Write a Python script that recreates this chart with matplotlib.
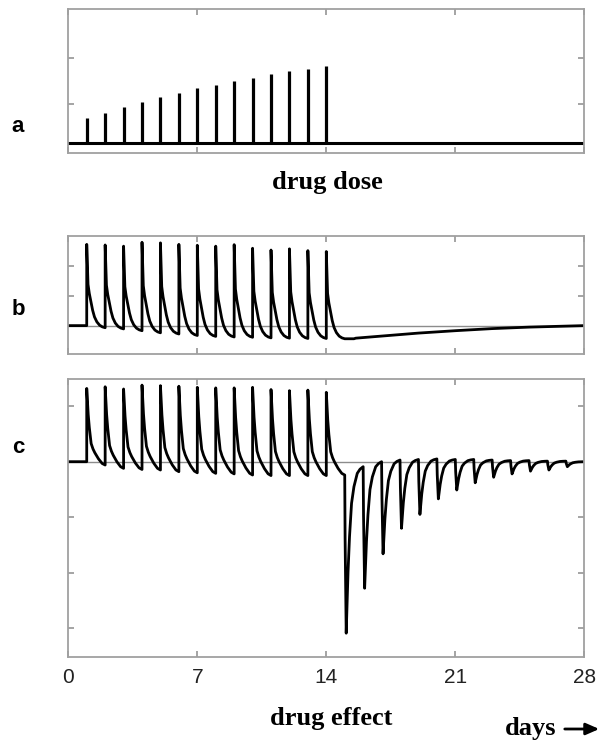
import matplotlib
matplotlib.use("Agg")
import matplotlib.pyplot as plt

W, H = 609, 740

# Daily doses (days 1-14), height of each dose stroke
DOSE_DAYS = list(range(1, 15))
DOSE_SIZE = [0.54, 0.66, 0.79, 0.89, 0.99, 1.08, 1.19, 1.26, 1.35, 1.41, 1.49, 1.56, 1.61, 1.67]

# Effect without withdrawal rebound (panel b)
B_PEAKS = [2.72, 2.70, 2.66, 2.79, 2.77, 2.72, 2.69, 2.66, 2.71, 2.59, 2.53, 2.57, 2.51, 2.48]
B_ENDS = [-0.07, -0.11, -0.17, -0.24, -0.28, -0.33, -0.36, -0.38, -0.39, -0.41, -0.42, -0.43, -0.43, -0.44]
B_TAIL_DAYS = [15.5, 15.6, 16, 17, 19, 21, 23, 25, 28]
B_TAIL = [-0.44, -0.42, -0.40, -0.35, -0.25, -0.17, -0.10, -0.05, 0.0]
# shape of one dosing interval: days after dose, fraction between trough and peak
B_SHAPE_T = [0, 0.07, 0.14, 0.22, 0.32, 0.42, 0.55, 0.70, 0.85, 1.0]
B_SHAPE = [1.0, 0.52, 0.41, 0.32, 0.21, 0.13, 0.07, 0.03, 0.01, 0.0]

# Effect with withdrawal rebound (panel c)
C_PEAKS = [1.32, 1.35, 1.31, 1.38, 1.37, 1.36, 1.34, 1.33, 1.33, 1.34, 1.30, 1.28, 1.29, 1.25]
C_ENDS = [-0.06, -0.12, -0.14, -0.15, -0.18, -0.20, -0.21, -0.22, -0.24, -0.25, -0.25, -0.25, -0.25, -0.24]
C_SHAPE_T = [0, 0.08, 0.14, 0.24, 0.34, 0.44, 0.54, 0.64, 0.74, 0.84, 1.0]
C_SHAPE = [1.0, 0.66, 0.49, 0.28, 0.21, 0.16, 0.12, 0.08, 0.05, 0.02, 0.0]

WD_DAYS = list(range(15, 28))
WD_MIN = [-3.09, -2.28, -1.66, -1.20, -0.95, -0.67, -0.51, -0.38, -0.28, -0.22, -0.17, -0.15, -0.09]
WD_ENDS = [-0.09, 0.0, 0.03, 0.04, 0.05, 0.04, 0.04, 0.03, 0.02, 0.02, 0.01, 0.01, 0.0]
WD_DROP_T = [0, 0.02, 0.08]
WD_DROP = [0.0, 0.4, 1.0]
WD_SHAPE_T = [0.18, 0.26, 0.37, 0.50, 0.68, 0.83, 1.0]
WD_SHAPE = [0.63, 0.42, 0.22, 0.12, 0.04, 0.015, 0.0]

TICK_DAYS = [0, 7, 14, 21, 28]


def dose_curve(days, peaks, ends, shape_t, shape):
    x, y = [0, days[0]], [0, 0]
    for d, pk, end in zip(days, peaks, ends):
        for t, f in zip(shape_t, shape):
            x.append(d + t)
            y.append(end + (pk - end) * f)
    return x, y


def withdrawal_curve(x, y):
    pre = y[-1]
    for d, lo, end in zip(WD_DAYS, WD_MIN, WD_ENDS):
        for t, f in zip(WD_DROP_T, WD_DROP):
            x.append(d + t)
            y.append(pre + (lo - pre) * f)
        for t, f in zip(WD_SHAPE_T, WD_SHAPE):
            x.append(d + t)
            y.append(end + (lo - end) * f)
        pre = end
    x.append(28)
    y.append(0)
    return x, y


def style(ax):
    for s in ax.spines.values():
        s.set_color("#a0a0a0")
        s.set_linewidth(1.3)
    ax.set_xlim(0, 28)
    ax.set_xticks(TICK_DAYS)
    ax.tick_params(direction="in", length=4.5, width=1.1, color="#8c8c8c",
                   top=True, right=True, labelleft=False, labelbottom=False)


fig = plt.figure(figsize=(W / 100, H / 100), dpi=100)


def axes_px(top, bottom):
    return fig.add_axes([68.3 / W, 1 - bottom / H, 516 / W, (bottom - top) / H])


# a: dose schedule
ax_a = axes_px(9.3, 153)
style(ax_a)
ax_a.set_ylim(-0.217, 2.907)
ax_a.set_yticks([0.85, 1.85])
ax_a.vlines(DOSE_DAYS, 0, DOSE_SIZE, color="black", lw=2.3)
ax_a.axhline(0, color="black", lw=2.2)

# b: effect, tolerance only
ax_b = axes_px(236, 354)
style(ax_b)
ax_b.set_ylim(-0.95, 3.0)
ax_b.set_yticks([0, 1, 2])
ax_b.axhline(0, color="#8c8c8c", lw=1.0)
bx, by = dose_curve(DOSE_DAYS, B_PEAKS, B_ENDS, B_SHAPE_T, B_SHAPE)
ax_b.plot(bx + B_TAIL_DAYS, by + B_TAIL, color="black", lw=2.0)

# c: effect with withdrawal rebound
ax_c = axes_px(379, 656.5)
style(ax_c)
ax_c.set_ylim(-3.51, 1.49)
ax_c.set_yticks([1, 0, -1, -2, -3])
ax_c.axhline(0, color="#8c8c8c", lw=1.0)
cx, cy = dose_curve(DOSE_DAYS, C_PEAKS, C_ENDS, C_SHAPE_T, C_SHAPE)
cx, cy = withdrawal_curve(cx, cy)
ax_c.plot(cx, cy, color="black", lw=2.0)
ax_c.tick_params(labelbottom=True, pad=8, labelsize=15, labelcolor="#222222")
for lbl in ax_c.get_xticklabels():
    lbl.set_fontfamily("Liberation Sans")

# panel letters and captions
for letter, y in [("a", 126), ("b", 310), ("c", 447)]:
    fig.text(18 / W, 1 - y / H, letter, fontsize=16, fontweight="bold",
             family="Liberation Sans", ha="center", va="center")

serif = dict(family="Liberation Serif", fontweight="bold", fontsize=19)
fig.text(327 / W, 1 - 182 / H, "drug dose", ha="center", va="center", **serif)
fig.text(331 / W, 1 - 718 / H, "drug effect", ha="center", va="center", **serif)
fig.text(505 / W, 1 - 729 / H, "days", ha="left", va="center", **serif)
fig.add_artist(matplotlib.patches.FancyArrowPatch(
    (562 / W, 1 - 729 / H), (602 / W, 1 - 729 / H), transform=fig.transFigure,
    arrowstyle="-|>,head_length=8,head_width=3.5", color="black", lw=2.0))

fig.savefig("out.png", dpi=100)
